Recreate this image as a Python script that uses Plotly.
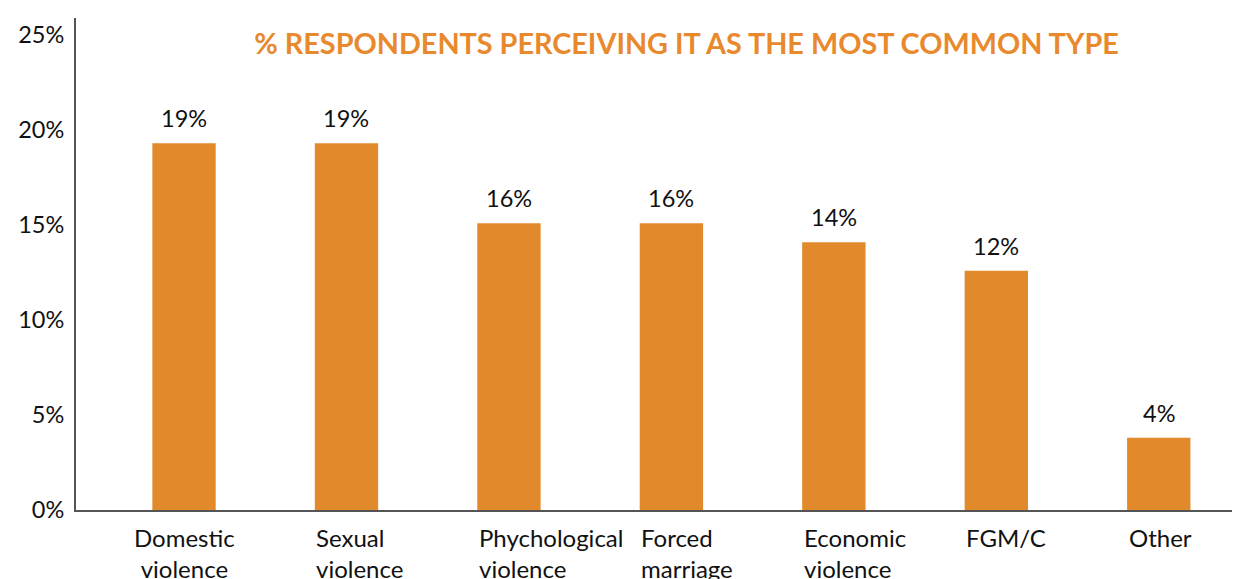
import plotly.graph_objects as go

categories = ["Domestic<br>violence", "Sexual<br>violence", "Phychological<br>violence",
              "Forced<br>marriage", "Economic<br>violence", "FGM/C", "Other"]
values = [19.3, 19.3, 15.1, 15.1, 14.1, 12.6, 3.8]
value_labels = ["19%", "19%", "16%", "16%", "14%", "12%", "4%"]
y_ticks = [0, 5, 10, 15, 20, 25]
y_tick_text = ["0%", "5%", "10%", "15%", "20%", "25%"]
title_text = "% RESPONDENTS PERCEIVING IT AS THE MOST COMMON TYPE"

BAR = "#E28A2B"
FONT = "Lato, 'Open Sans', sans-serif"

x_idx = list(range(len(categories)))

fig = go.Figure(go.Bar(
    x=x_idx, y=values, width=0.39,
    marker=dict(color=BAR, line=dict(width=0)),
    hoverinfo="skip",
))

annotations = []
for i, cat in enumerate(categories):
    centered = (i == 0)
    annotations.append(dict(
        x=i, xref="x", y=0, yref="paper",
        text=cat, showarrow=False,
        xanchor="center" if centered else "left",
        align="center" if centered else "left",
        xshift=0 if centered else -32,
        yanchor="top", yshift=-11,
        font=dict(family=FONT, size=24, color="#111"),
    ))
for i, (v, lab) in enumerate(zip(values, value_labels)):
    annotations.append(dict(
        x=i, xref="x", y=v, yref="y",
        text=lab, showarrow=False,
        xanchor="center", yanchor="bottom", yshift=9,
        font=dict(family=FONT, size=23.5, color="#111"),
    ))

fig.update_layout(
    width=1240, height=579,
    margin=dict(l=68, r=8, t=10, b=77, autoexpand=False),
    paper_bgcolor="white", plot_bgcolor="white",
    showlegend=False,
    title=dict(text=title_text, x=678.5 / 1240, xanchor="center",
               y=1 - 36 / 579, yanchor="middle",
               font=dict(family=FONT, size=28.8, color="#E8892D", weight="bold")),
    xaxis=dict(range=[-0.665, 6.5], showticklabels=False, ticks="",
               showgrid=False, zeroline=False, showline=True, automargin=False,
               linecolor="#555", linewidth=2),
    yaxis=dict(range=[0, 25.9], tickvals=y_ticks, ticktext=y_tick_text,
               showgrid=False, zeroline=False, showline=True, automargin=False,
               linecolor="#555", linewidth=2, ticks="",
               ticklabelstandoff=5,
               tickfont=dict(family=FONT, size=23.5, color="#111")),
    annotations=annotations,
)

fig.write_html("out.html")
